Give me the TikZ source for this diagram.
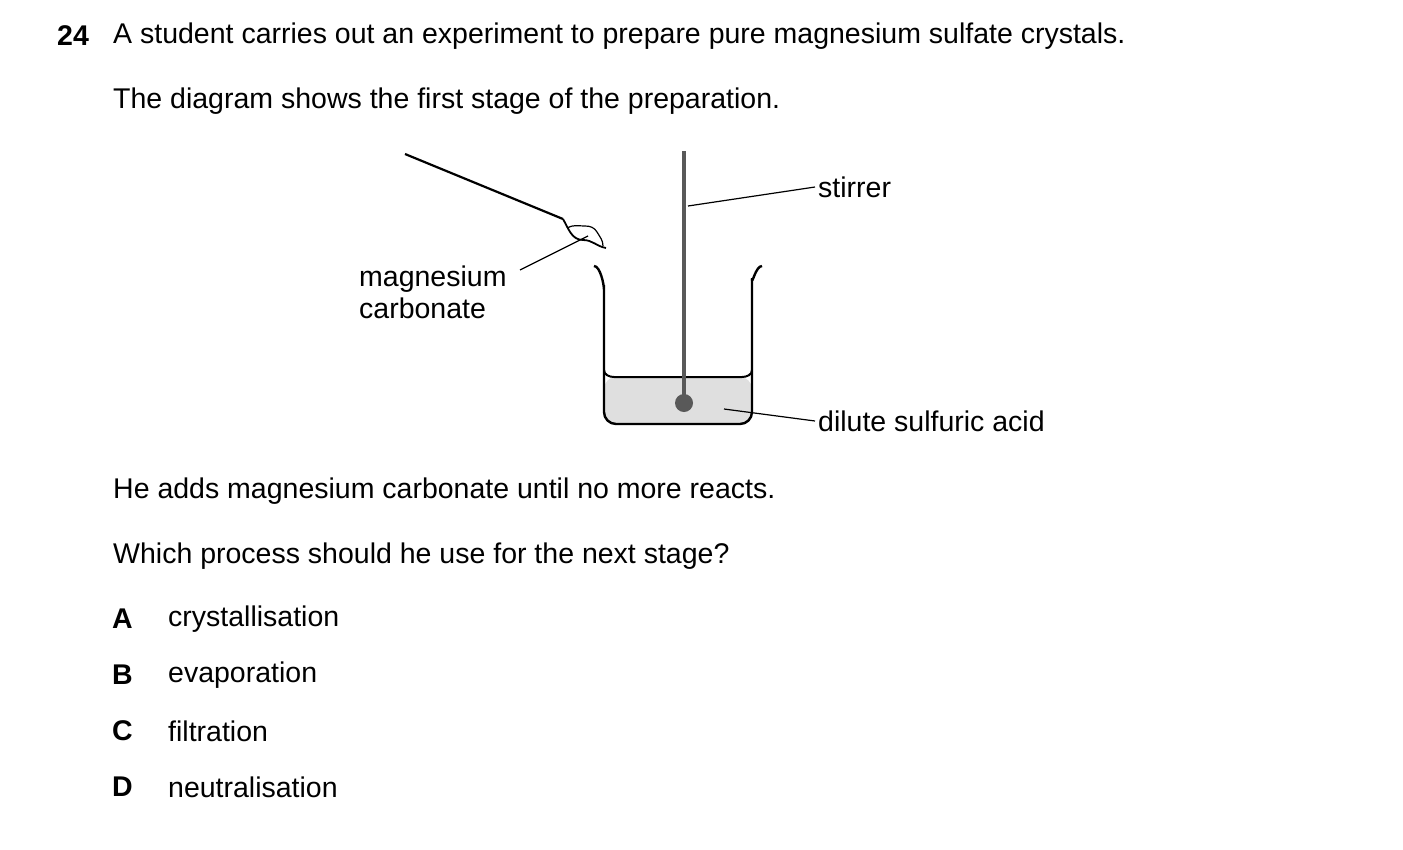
\documentclass[tikz,border=0pt]{standalone}
\usepackage{fontspec}
\setmainfont{Liberation Sans}
\usetikzlibrary{positioning}
\begin{document}
\begin{tikzpicture}[x=1pt, y=-1pt, every node/.style={font=\fontsize{28.5}{33}\selectfont, inner sep=0pt, anchor=west},
  lbl/.style={line width=1.2pt}]
    \useasboundingbox (0,0) rectangle (1403,849);

    % Question text
    \node[font=\fontsize{28.5}{33}\selectfont\bfseries] (num) at (57,36) {24};
    \node (q1) at (113,36) {A student carries out an experiment to prepare pure magnesium sulfate crystals.};
    \node (q2) at (113,101) {The diagram shows the first stage of the preparation.};
    \node (q3) at (113,491) {He adds magnesium carbonate until no more reacts.};
    \node (q4) at (113,556) {Which process should he use for the next stage?};

    % Options
    \foreach \l/\t/\y in {A/crystallisation/619, B/evaporation/675, C/filtration/731, D/neutralisation/787}{
        \node[font=\fontsize{28.5}{33}\selectfont\bfseries] at (112,\y) {\l};
        \node at (168,\y) {\t};
    }

    % Liquid
    \fill[gray!25, rounded corners=12pt] (604,377) -- (604,424) -- (752,424) -- (752,377) -- cycle;
    \draw[line width=2pt] (604,370) to[out=-90,in=180] (614,377) -- (742,377) to[out=0,in=-90] (752,370);

    % Beaker
    \draw[line width=2.4pt, rounded corners=12pt] (594,266) to[out=0,in=-90] (604,278) -- (604,424)
        -- (752,424) -- (752,278);
    \draw[line width=2.4pt] (752,279) to[out=-90,in=180] (762,266);

    % Stirrer
    \draw[gray!70!black, line width=4pt] (684,151) -- (684,403);
    \fill[gray!70!black] (684,403) circle (9);

    % Spatula
    \draw[line width=2.2pt] (405,154) -- (563,219);
    \draw[line width=1.8pt] (563,219) to[out=-60,in=180] (583,240) to[out=0,in=170] (606,248);
    \draw[line width=1.2pt] (567,228) to[out=30,in=180] (585,226) to[out=0,in=120] (597,232) to[out=-60,in=90] (603,246);

    % Labels
    \node[align=left] (mg) at (359,292) {magnesium\\[-1pt]carbonate};
    \coordinate (mgtip) at (588,236);
    \draw[lbl] (520,270) -- (mgtip);
    \node (stir) at (818,187) {stirrer};
    \draw[lbl] (688,206) -- ([xshift=-3pt]stir.west);
    \node (acid) at (818,421) {dilute sulfuric acid};
    \coordinate (acidtip) at (724,409);
    \draw[lbl] (acidtip) -- ([xshift=-3pt]acid.west);
\end{tikzpicture}
\end{document}
